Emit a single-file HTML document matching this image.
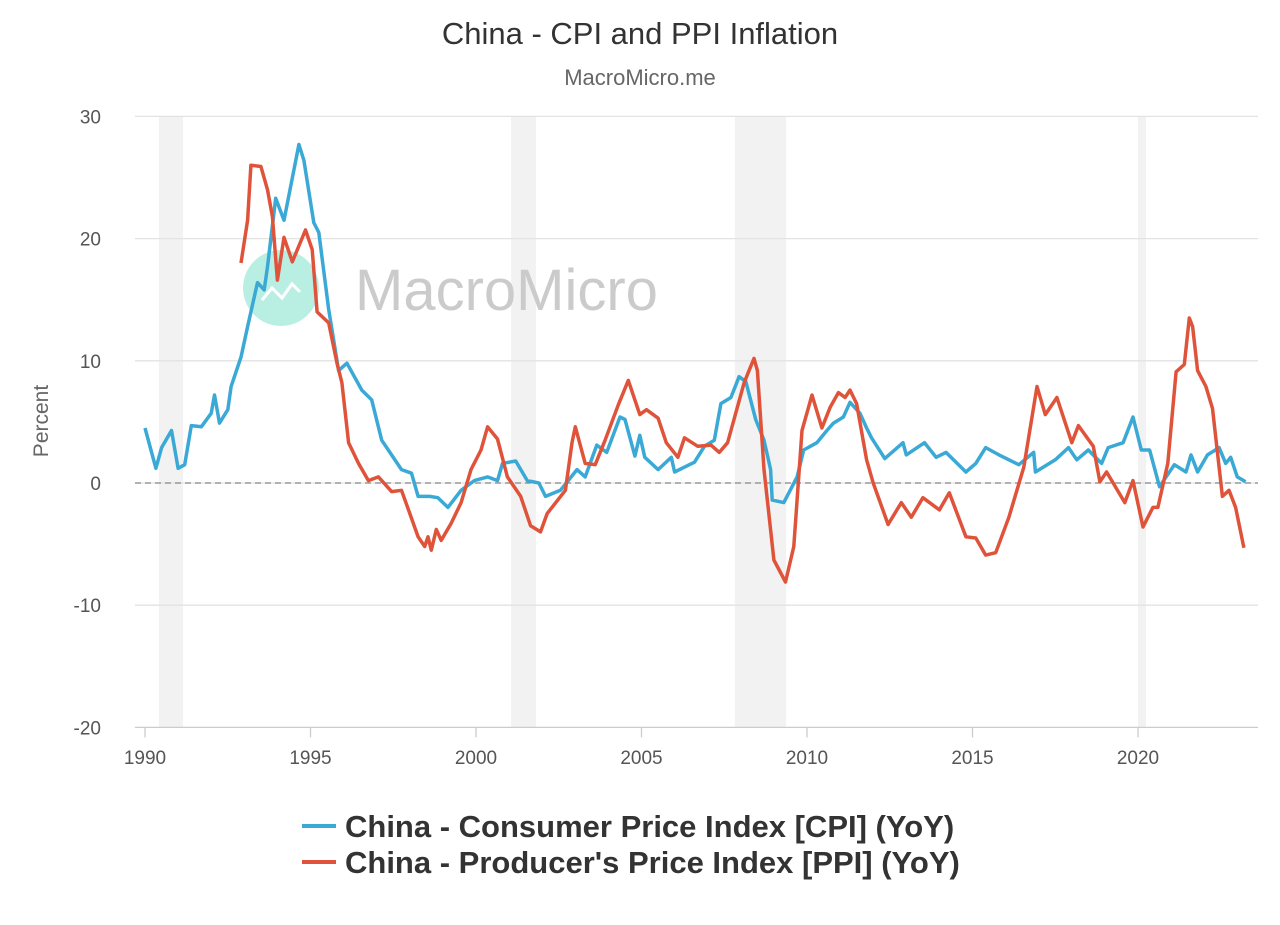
<!DOCTYPE html>
<html><head><meta charset="utf-8"><style>
body{margin:0;background:#fff;width:1280px;height:920px;overflow:hidden;font-family:"Liberation Sans",sans-serif}
</style></head><body>
<svg id="chart" width="1280" height="920" xmlns="http://www.w3.org/2000/svg" font-family="Liberation Sans, sans-serif">
<text x="640" y="44" text-anchor="middle" font-size="31" fill="#333">China - CPI and PPI Inflation</text>
<text x="640" y="85" text-anchor="middle" font-size="22" fill="#666">MacroMicro.me</text>
<g id="bands"></g>
<g id="grid"></g>
<g>
<circle cx="281" cy="288" r="38" fill="#b9efe3"/>
<polyline points="262,300 272,288 282,298 292,284 300,292" fill="none" stroke="#fff" stroke-width="3"/>
<text x="355" y="310" font-size="58" fill="#cbcbcb">MacroMicro</text>
</g>
<g id="lines"></g>
<text x="48" y="421" transform="rotate(-90 48 421)" text-anchor="middle" font-size="21" fill="#666">Percent</text>
<g>
<line x1="302" y1="826" x2="336" y2="826" stroke="#3aa9d6" stroke-width="4"/>
<text x="345" y="837" font-size="31" font-weight="bold" fill="#333">China - Consumer Price Index [CPI] (YoY)</text>
<line x1="302" y1="862" x2="336" y2="862" stroke="#e0533b" stroke-width="4"/>
<text x="345" y="873" font-size="31" font-weight="bold" fill="#333">China - Producer's Price Index [PPI] (YoY)</text>
</g>
</svg>
<script>
const yTicks=[30,20,10,0,-10,-20];
const xTicks=[1990,1995,2000,2005,2010,2015,2020];
const recessions=[[1990.42,1991.15],[2001.06,2001.81],[2007.82,2009.37],[2020.0,2020.24]];
const cpiYears=[1990.0,1990.33,1990.5,1990.8,1991.0,1991.2,1991.4,1991.7,1992.0,1992.1,1992.25,1992.5,1992.6,1992.9,1993.1,1993.4,1993.6,1993.7,1993.95,1994.2,1994.65,1994.8,1995.1,1995.25,1995.55,1995.85,1996.1,1996.55,1996.85,1997.15,1997.35,1997.75,1998.05,1998.25,1998.6,1998.85,1999.15,1999.55,1999.95,2000.35,2000.65,2000.8,2001.2,2001.55,2001.9,2002.1,2002.55,2003.05,2003.3,2003.65,2003.95,2004.35,2004.5,2004.8,2004.95,2005.1,2005.5,2005.9,2006.0,2006.6,2006.9,2007.2,2007.4,2007.7,2007.95,2008.15,2008.45,2008.7,2008.9,2008.95,2009.3,2009.7,2009.9,2010.3,2010.6,2010.8,2011.1,2011.3,2011.6,2011.8,2011.95,2012.35,2012.9,2013.0,2013.55,2013.9,2014.2,2014.8,2015.1,2015.4,2015.8,2016.4,2016.85,2016.9,2017.5,2017.9,2018.15,2018.5,2018.9,2019.1,2019.55,2019.85,2020.1,2020.35,2020.65,2021.1,2021.45,2021.6,2021.8,2022.1,2022.45,2022.65,2022.8,2023.0,2023.25];
const cpiValues=[4.5,1.2,2.9,4.3,1.2,1.5,4.7,4.6,5.7,7.2,4.9,6.0,7.9,10.3,12.8,16.4,15.8,17.7,23.3,21.5,27.7,26.4,21.3,20.5,14.2,9.2,9.8,7.6,6.8,3.5,2.7,1.1,0.8,-1.1,-1.1,-1.2,-2.0,-0.6,0.2,0.5,0.2,1.6,1.8,0.2,0.0,-1.1,-0.6,1.1,0.5,3.1,2.5,5.4,5.2,2.2,3.9,2.1,1.1,2.1,0.9,1.7,3.0,3.5,6.5,7.0,8.7,8.3,5.2,3.5,1.1,-1.4,-1.6,0.5,2.7,3.3,4.3,4.9,5.4,6.6,5.7,4.5,3.7,2.0,3.3,2.3,3.3,2.1,2.5,0.9,1.6,2.9,2.3,1.5,2.5,0.9,1.9,2.9,1.9,2.7,1.6,2.9,3.3,5.4,2.7,2.7,-0.3,1.5,0.9,2.3,0.9,2.3,2.9,1.6,2.1,0.5,0.1];
const ppiYears=[1992.9,1993.1,1993.2,1993.5,1993.7,1993.85,1994.0,1994.2,1994.45,1994.85,1995.05,1995.2,1995.55,1995.8,1995.95,1996.15,1996.45,1996.75,1997.05,1997.45,1997.75,1998.0,1998.25,1998.45,1998.55,1998.65,1998.8,1998.95,1999.25,1999.55,1999.85,2000.15,2000.35,2000.65,2000.95,2001.35,2001.65,2001.95,2002.15,2002.7,2002.9,2003.0,2003.3,2003.6,2003.9,2004.3,2004.6,2004.95,2005.15,2005.5,2005.75,2006.1,2006.3,2006.7,2007.1,2007.35,2007.6,2008.1,2008.4,2008.5,2008.7,2009.0,2009.35,2009.6,2009.85,2010.15,2010.45,2010.7,2010.95,2011.15,2011.3,2011.5,2011.8,2012.0,2012.45,2012.85,2013.15,2013.5,2014.0,2014.3,2014.8,2015.1,2015.4,2015.7,2016.1,2016.55,2016.95,2017.2,2017.55,2018.0,2018.2,2018.65,2018.85,2019.05,2019.6,2019.85,2020.15,2020.45,2020.6,2020.9,2021.15,2021.4,2021.55,2021.65,2021.8,2022.05,2022.25,2022.55,2022.75,2022.95,2023.2];
const ppiValues=[18.0,21.5,26.0,25.9,24.0,21.8,16.6,20.1,18.1,20.7,19.1,14.0,13.1,9.8,8.2,3.3,1.6,0.2,0.5,-0.7,-0.6,-2.5,-4.4,-5.2,-4.4,-5.5,-3.8,-4.7,-3.3,-1.6,1.1,2.7,4.6,3.6,0.5,-1.1,-3.5,-4.0,-2.5,-0.6,3.3,4.6,1.6,1.5,3.5,6.4,8.4,5.6,6.0,5.3,3.3,2.1,3.7,3.0,3.1,2.5,3.3,8.2,10.2,9.2,1.1,-6.3,-8.1,-5.2,4.3,7.2,4.5,6.2,7.4,7.0,7.6,6.5,1.9,0.0,-3.4,-1.6,-2.8,-1.2,-2.2,-0.8,-4.4,-4.5,-5.9,-5.7,-2.8,1.3,7.9,5.6,7.0,3.3,4.7,3.0,0.1,0.9,-1.6,0.2,-3.6,-2.0,-2.0,1.6,9.1,9.7,13.5,12.8,9.2,7.9,6.1,-1.1,-0.6,-2.0,-5.3];

const NS="http://www.w3.org/2000/svg";
const L=135,R=1258;
function xs(y){return 145+(y-1990)*33.1;}
function ys(v){return 483-v*12.22;}
function mk(tag,attrs,parent){const e=document.createElementNS(NS,tag);for(const k in attrs)e.setAttribute(k,attrs[k]);document.getElementById(parent).appendChild(e);return e;}
recessions.forEach(r=>{
 const e=mk('rect',{x:xs(r[0]),y:ys(30),width:xs(r[1])-xs(r[0]),height:ys(-20)-ys(30),fill:'#f2f2f2'},'bands');
 
 
});
yTicks.forEach(t=>{
 const g=mk('line',{x1:L,x2:R,y1:ys(t),y2:ys(t),stroke:t===-20?'#ccc':'#e3e3e3','stroke-width':1.3},'grid');
 
 
 const tx=mk('text',{x:101,y:ys(t)+7,'text-anchor':'end','font-size':19,fill:'#555'},'grid');
 tx.textContent=t;
 
 
});
const zl=mk('line',{x1:L,x2:R,y1:ys(0),y2:ys(0),stroke:'#888','stroke-width':1.3,'stroke-dasharray':'6,4'},'grid');


xTicks.forEach(t=>{
 const tk=mk('line',{x1:xs(t),x2:xs(t),y1:ys(-20),y2:ys(-20)+10,stroke:'#ccc','stroke-width':1.3},'grid');
 
 
 const tx=mk('text',{x:xs(t),y:764,'text-anchor':'middle','font-size':19,fill:'#555'},'grid');
 tx.textContent=t;
 
 
});
function line(ys_,vs,color,name){
 const p=ys_.map((y,i)=>xs(y).toFixed(1)+','+ys(vs[i]).toFixed(1)).join(' ');
 const e=mk('polyline',{points:p,fill:'none',stroke:color,'stroke-width':3.5,'stroke-linejoin':'round'},'lines');
 
 
}
line(cpiYears,cpiValues,'#3aa9d6','cpi-line');
line(ppiYears,ppiValues,'#e0533b','ppi-line');
</script>
</body></html>
